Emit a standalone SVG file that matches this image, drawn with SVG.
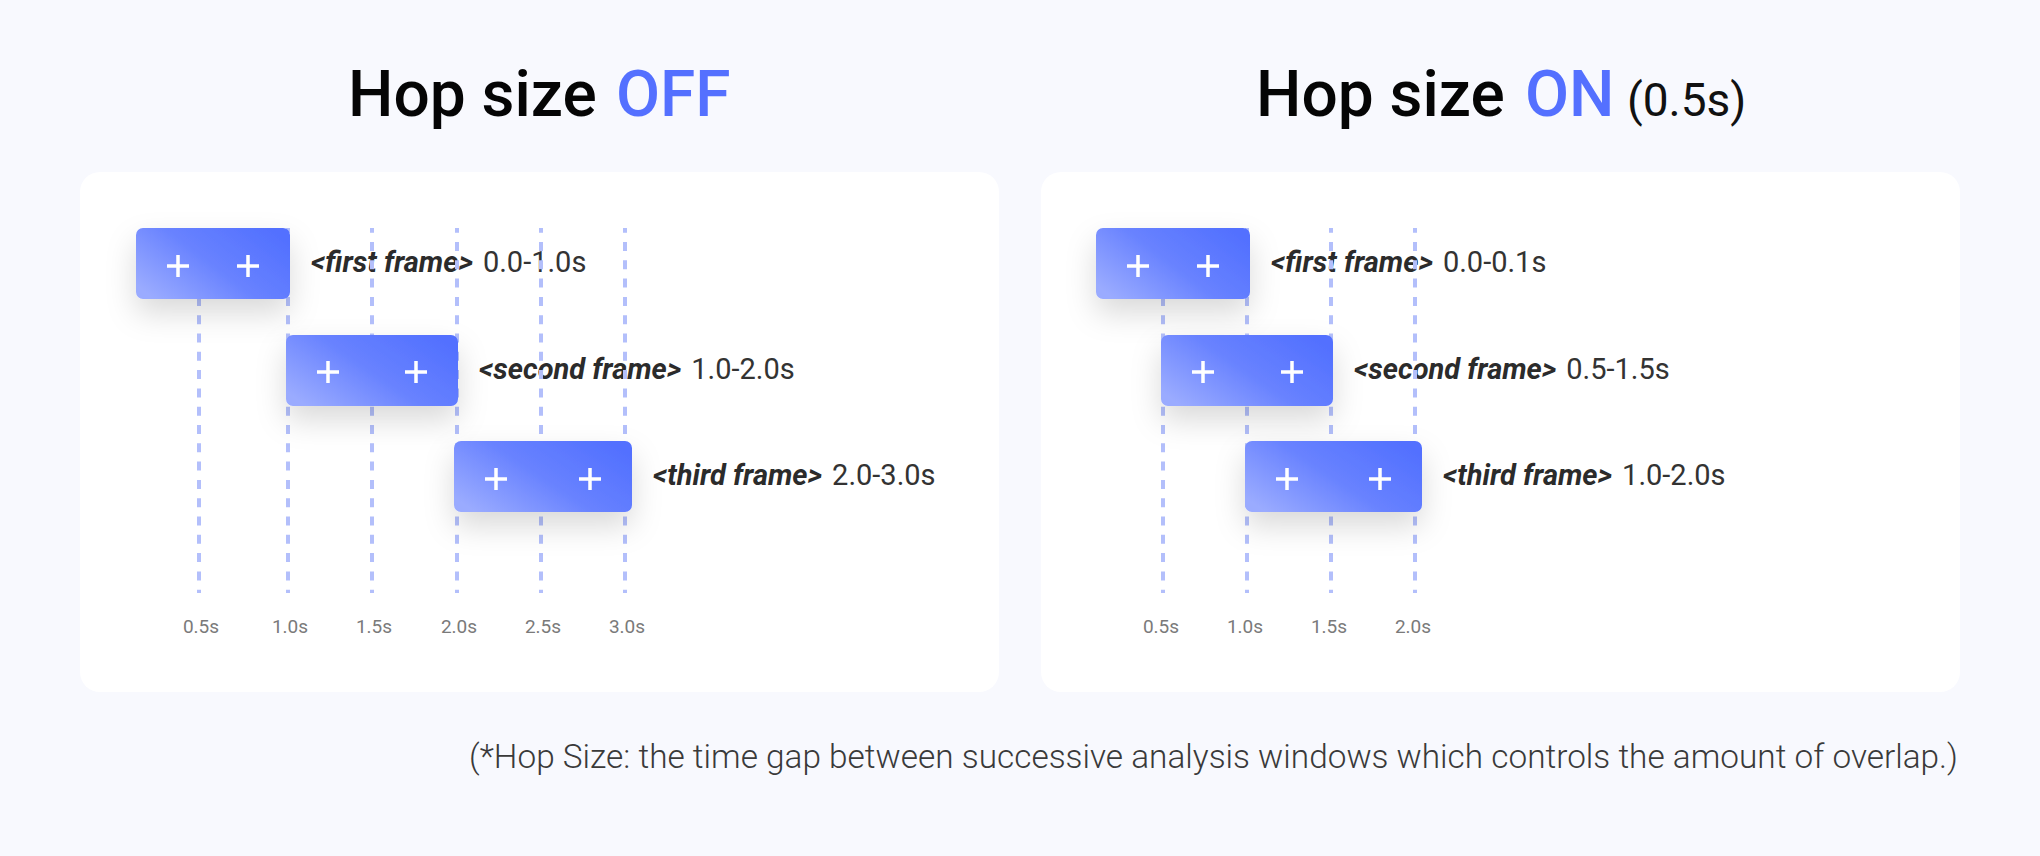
<svg xmlns="http://www.w3.org/2000/svg" width="2040" height="856" viewBox="0 0 2040 856">
  <defs>
    <style>
      .title { font-family: Roboto, "Liberation Sans", sans-serif; font-weight: 500; font-size: 64px; fill: #050505; }
      .accent { fill: #5470ff; }
      .sub { font-weight: 400; font-size: 46px; fill: #111; }
      .panel { fill: #ffffff; }
      .grid { stroke: #b3bffb; stroke-width: 4; stroke-dasharray: 9 9.3; stroke-dashoffset: 4.3; fill: none; }
      .frame { fill: url(#boxGrad); filter: url(#shadow); }
      .plus { stroke: #ffffff; stroke-width: 3.5; fill: none; }
      .label { font-family: Roboto, "Liberation Sans", sans-serif; font-size: 29px; fill: #2b2b2b; }
      .lb { font-weight: 700; font-style: italic; }
      .lr { font-weight: 400; fill: #333333; }
      .axis { font-family: Roboto, "Liberation Sans", sans-serif; font-size: 19px; fill: #7a7a7a; text-anchor: middle; }
      .note { font-family: Roboto, "Liberation Sans", sans-serif; font-weight: 300; font-size: 33px; fill: #3a3a3a; }
    </style>
    <linearGradient id="boxGrad" x1="0" y1="0.8" x2="1" y2="0.2">
      <stop offset="0" stop-color="#9aabff"/>
      <stop offset="0.5" stop-color="#6882ff"/>
      <stop offset="1" stop-color="#5270ff"/>
    </linearGradient>
    <filter id="shadow" x="-40%" y="-40%" width="180%" height="230%">
      <feDropShadow dx="0" dy="14" stdDeviation="15" flood-color="#000" flood-opacity="0.15"/>
    </filter>
  </defs>

  <rect x="0" y="0" width="2040" height="856" fill="#f8f9fe"/>

  <!-- Titles -->
  <text class="title" y="116"><tspan x="348">Hop size</tspan><tspan class="accent" x="616">OFF</tspan></text>
  <text class="title" y="116"><tspan x="1256">Hop size</tspan><tspan class="accent" x="1525">ON</tspan><tspan class="sub" x="1627">(0.5s)</tspan></text>

  <!-- Panels -->
  <rect id="panel-off" class="panel" x="80" y="172" width="919" height="520" rx="20"/>
  <rect id="panel-on" class="panel" x="1041" y="172" width="919" height="520" rx="20"/>

  <!-- Labels (left) -->
  <text id="label-off-1" class="label" x="311" y="272"><tspan class="lb">&lt;first frame&gt;</tspan><tspan class="lr" dx="10">0.0-1.0s</tspan></text>
  <text id="label-off-2" class="label" x="479" y="379"><tspan class="lb">&lt;second frame&gt;</tspan><tspan class="lr" dx="10">1.0-2.0s</tspan></text>
  <text id="label-off-3" class="label" x="653" y="485"><tspan class="lb">&lt;third frame&gt;</tspan><tspan class="lr" dx="10">2.0-3.0s</tspan></text>

  <!-- Labels (right) -->
  <text id="label-on-1" class="label" x="1271" y="272"><tspan class="lb">&lt;first frame&gt;</tspan><tspan class="lr" dx="10">0.0-0.1s</tspan></text>
  <text id="label-on-2" class="label" x="1354" y="379"><tspan class="lb">&lt;second frame&gt;</tspan><tspan class="lr" dx="10">0.5-1.5s</tspan></text>
  <text id="label-on-3" class="label" x="1443" y="485"><tspan class="lb">&lt;third frame&gt;</tspan><tspan class="lr" dx="10">1.0-2.0s</tspan></text>

  <!-- Grid lines -->
  <g id="connectors">
    <line class="grid" x1="199" y1="228" x2="199" y2="593"/>
    <line class="grid" x1="288" y1="228" x2="288" y2="593"/>
    <line class="grid" x1="372" y1="228" x2="372" y2="593"/>
    <line class="grid" x1="457" y1="228" x2="457" y2="593"/>
    <line class="grid" x1="541" y1="228" x2="541" y2="593"/>
    <line class="grid" x1="625" y1="228" x2="625" y2="593"/>
    <line class="grid" x1="1163" y1="228" x2="1163" y2="593"/>
    <line class="grid" x1="1247" y1="228" x2="1247" y2="593"/>
    <line class="grid" x1="1331" y1="228" x2="1331" y2="593"/>
    <line class="grid" x1="1415" y1="228" x2="1415" y2="593"/>
  </g>

  <!-- Axis labels -->
  <g id="axis-off">
    <text class="axis" x="201" y="633">0.5s</text>
    <text class="axis" x="290" y="633">1.0s</text>
    <text class="axis" x="374" y="633">1.5s</text>
    <text class="axis" x="459" y="633">2.0s</text>
    <text class="axis" x="543" y="633">2.5s</text>
    <text class="axis" x="627" y="633">3.0s</text>
  </g>
  <g id="axis-on">
    <text class="axis" x="1161" y="633">0.5s</text>
    <text class="axis" x="1245" y="633">1.0s</text>
    <text class="axis" x="1329" y="633">1.5s</text>
    <text class="axis" x="1413" y="633">2.0s</text>
  </g>

  <!-- Frame boxes, left -->
  <g id="off-frame-1">
    <rect class="frame" x="136" y="228" width="154" height="71" rx="7"/>
    <path class="plus" d="M167 266h22M178 255v22M237 266h22M248 255v22"/>
  </g>
  <g id="off-frame-2">
    <rect class="frame" x="286" y="335" width="172" height="71" rx="7"/>
    <path class="plus" d="M317 372h22M328 361v22M405 372h22M416 361v22"/>
  </g>
  <g id="off-frame-3">
    <rect class="frame" x="454" y="441" width="178" height="71" rx="7"/>
    <path class="plus" d="M485 479h22M496 468v22M579 479h22M590 468v22"/>
  </g>

  <!-- Frame boxes, right -->
  <g id="on-frame-1">
    <rect class="frame" x="1096" y="228" width="154" height="71" rx="7"/>
    <path class="plus" d="M1127 266h22M1138 255v22M1197 266h22M1208 255v22"/>
  </g>
  <g id="on-frame-2">
    <rect class="frame" x="1161" y="335" width="172" height="71" rx="7"/>
    <path class="plus" d="M1192 372h22M1203 361v22M1281 372h22M1292 361v22"/>
  </g>
  <g id="on-frame-3">
    <rect class="frame" x="1245" y="441" width="177" height="71" rx="7"/>
    <path class="plus" d="M1276 479h22M1287 468v22M1369 479h22M1380 468v22"/>
  </g>

  <!-- Footnote -->
  <text class="note" x="469" y="768" textLength="1489" lengthAdjust="spacingAndGlyphs">(*Hop Size: the time gap between successive analysis windows which controls the amount of overlap.)</text>
</svg>
